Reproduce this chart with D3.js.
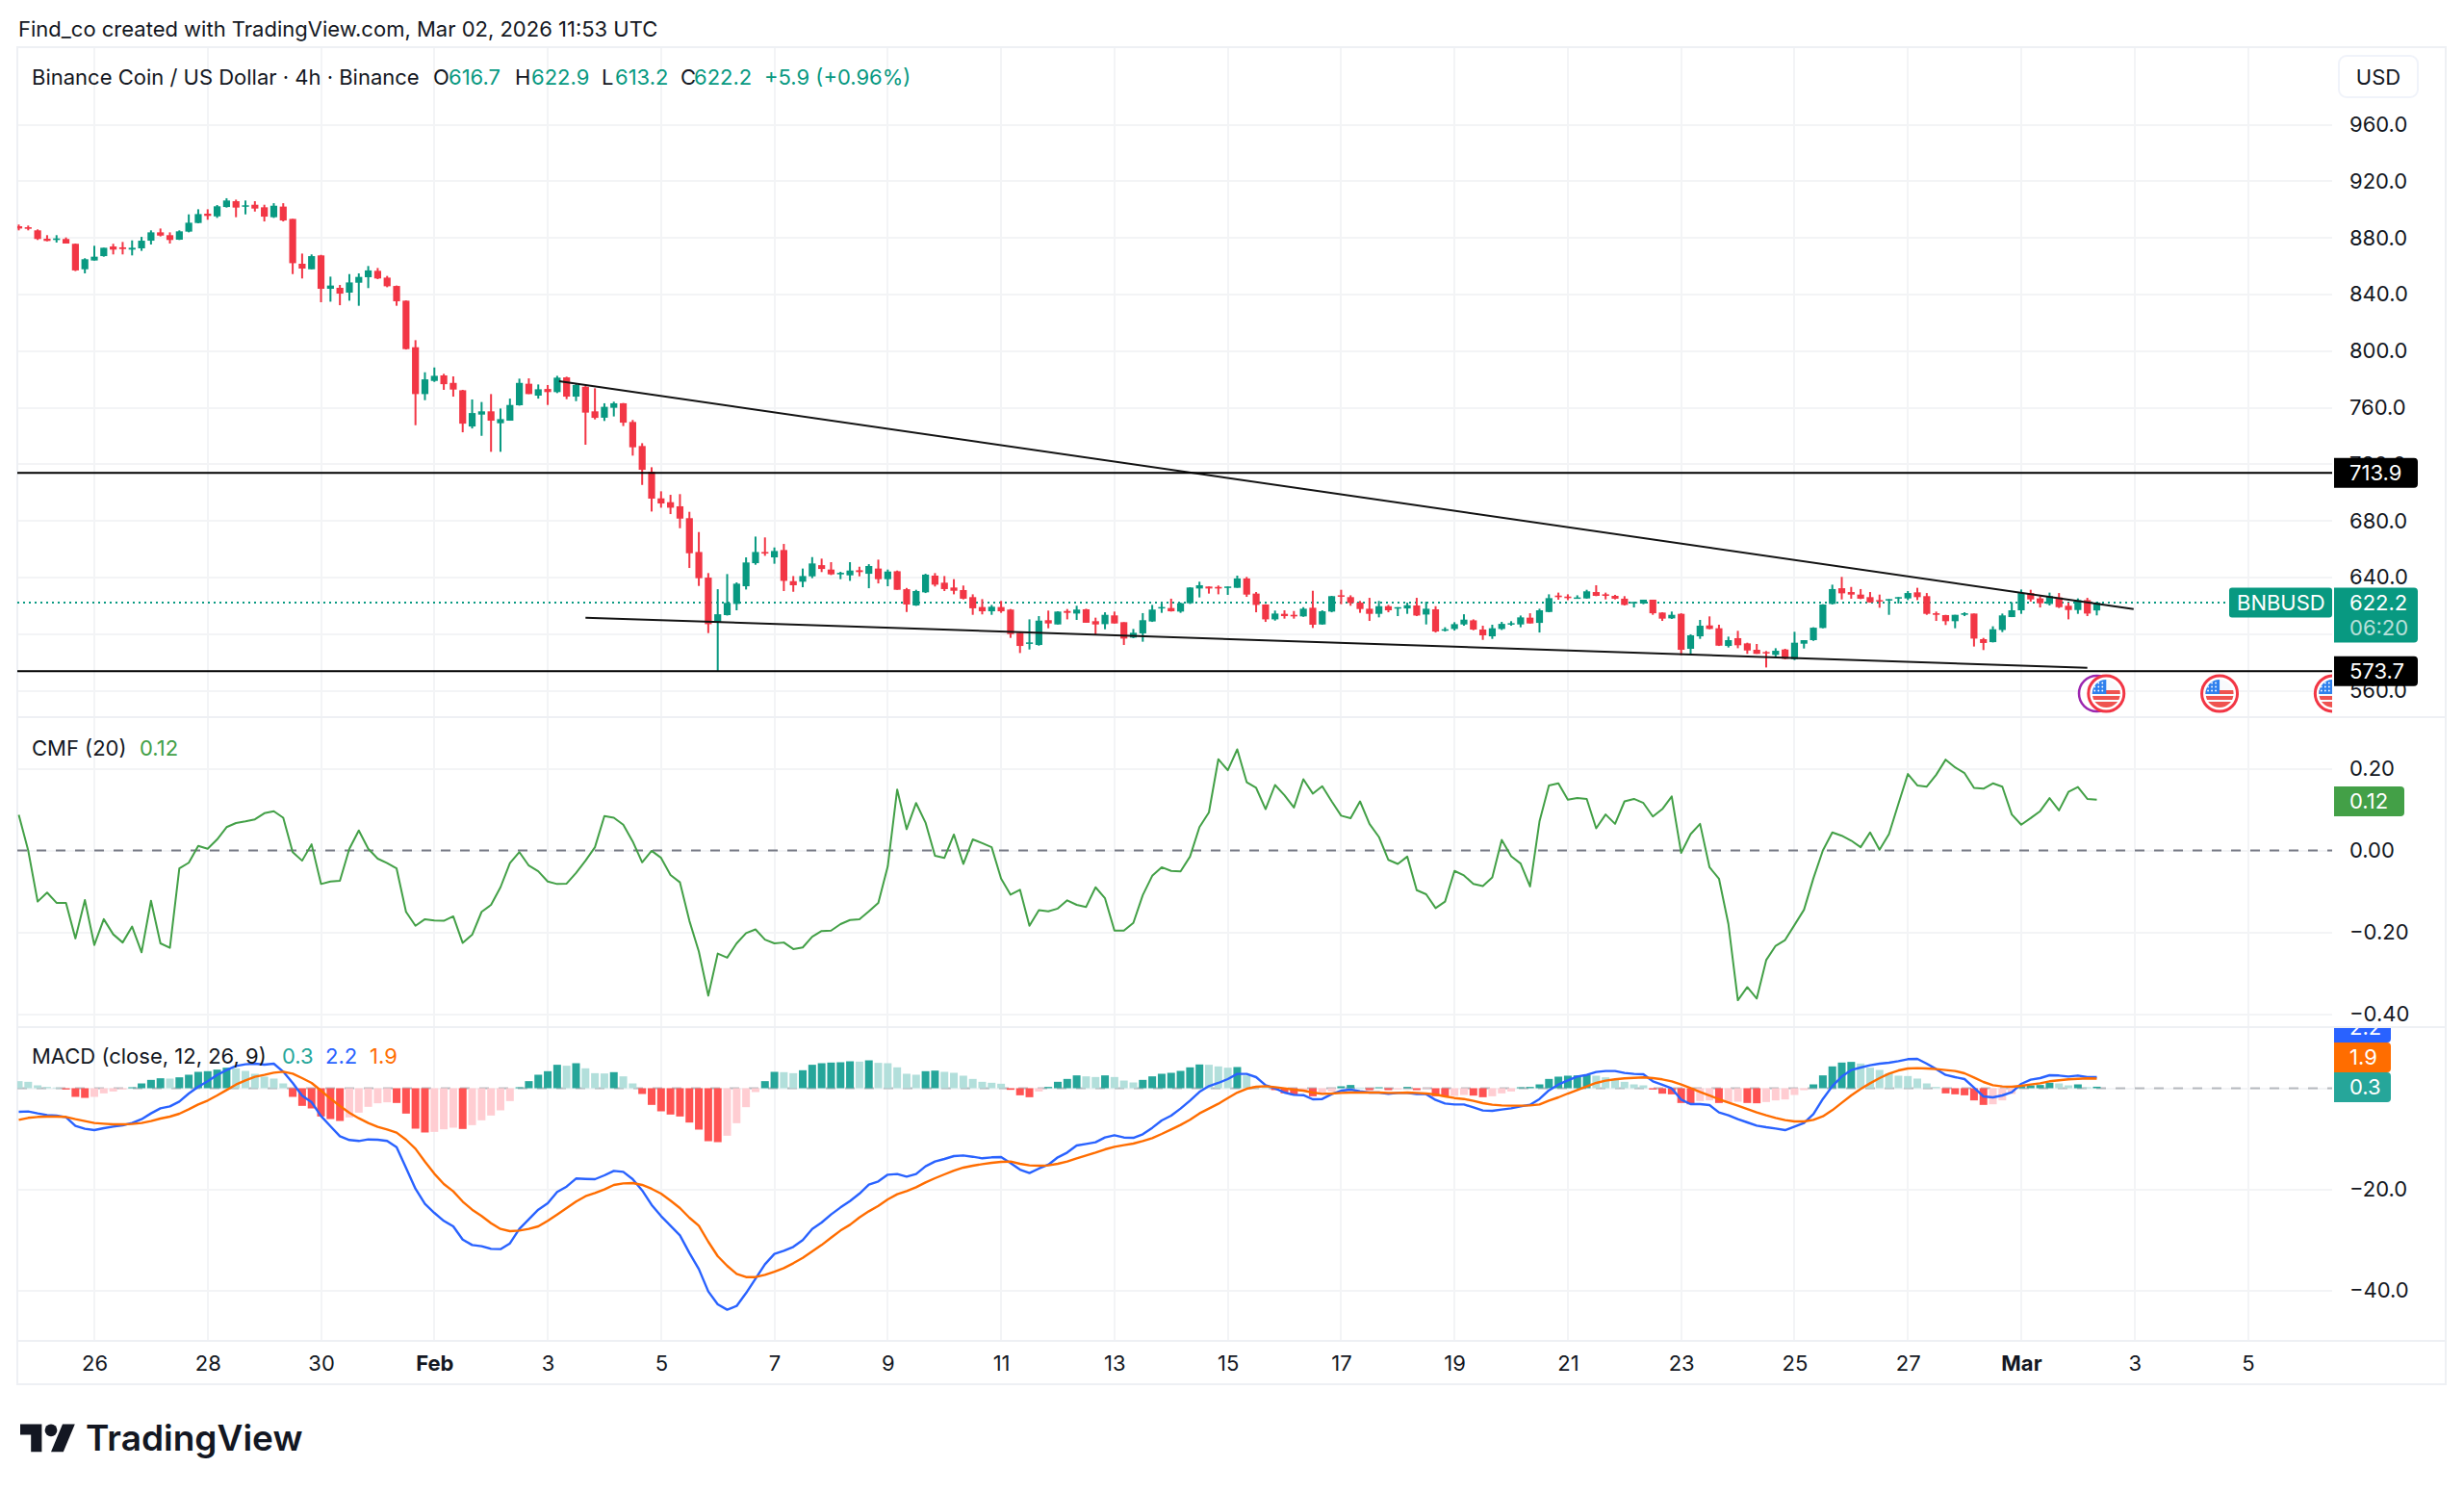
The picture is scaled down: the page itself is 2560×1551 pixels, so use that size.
<!DOCTYPE html>
<html>
<head>
<meta charset="utf-8">
<title>BNBUSD 4h</title>
<script src="https://cdn.jsdelivr.net/npm/d3@7"></script>
<style>
  html, body { margin: 0; padding: 0; background: #fff; }
  text { font-family: Inter, "Liberation Sans", sans-serif; fill: #131722; font-size: 22px; }
</style>
</head>
<body>
<svg id="chart" width="2560" height="1551" viewBox="0 0 2560 1551"></svg>
<script>
// 4h candles, oldest first.
const opens = [
  888.2,887.5,885.3,879.4,878.5,879.2,875.8,857.8,864.0,867.1,
  873.9,873.3,871.7,872.6,878.0,883.9,881.9,878.7,884.4,890.5,
  897.1,895.2,901.8,905.9,902.1,903.4,901.6,894.6,902.1,893.4,
  861.7,857.8,867.6,844.0,844.7,841.3,848.3,852.2,856.7,851.9,
  846.0,835.6,802.7,769.6,778.9,782.8,777.5,772.3,746.7,755.1,
  757.4,749.0,750.8,761.7,776.9,768.5,773.2,771.0,781.4,767.8,
  774.8,757.4,752.9,759.9,763.1,749.9,732.9,714.7,695.9,693.2,
  690.3,681.9,658.0,639.9,608.2,613.4,621.3,633.8,650.1,658.0,
  654.2,659.4,637.4,637.0,640.8,648.7,645.6,642.2,641.5,645.1,
  642.6,646.3,638.8,644.4,631.7,620.2,629.5,641.3,636.3,632.9,
  631.1,626.1,619.1,616.1,619.1,617.3,600.9,593.2,592.3,609.8,
  606.8,616.3,614.5,617.5,609.1,607.0,613.2,608.4,597.5,600.5,
  608.9,618.2,618.4,615.9,621.8,632.2,633.6,633.3,632.7,632.7,
  639.3,628.6,620.9,610.4,614.3,613.6,612.5,618.6,606.8,615.9,
  627.4,626.1,622.2,617.9,614.3,619.7,618.4,618.1,620.2,613.8,
  617.5,602.5,603.6,606.8,609.7,603.2,598.4,603.6,606.8,606.8,
  611.6,607.9,615.6,627.2,626.5,625.2,625.2,629.7,628.1,627.0,
  625.0,621.8,621.6,624.3,615.2,611.1,614.3,589.6,598.4,606.1,
  604.1,591.6,597.1,593.4,588.9,587.3,585.3,589.1,582.3,593.2,
  595.7,604.3,621.3,632.4,629.7,627.9,626.1,624.0,624.0,625.2,
  625.2,629.5,626.8,614.7,613.4,609.1,613.6,614.5,596.4,594.3,
  602.9,612.0,616.8,629.0,625.2,621.3,625.9,620.0,617.0,624.0,
  616.7];
const highs = [
  889.4,888.7,886.0,881.9,881.9,880.3,876.0,865.6,874.4,873.0,
  875.8,877.1,878.2,880.7,885.3,886.6,883.9,885.3,896.6,900.2,
  900.2,903.2,908.0,907.0,906.4,905.9,903.4,904.5,904.5,893.4,
  868.9,868.3,868.0,852.6,846.7,854.4,854.9,860.1,858.7,853.1,
  846.3,835.8,807.7,785.0,788.4,783.9,782.1,772.6,765.8,764.0,
  769.6,759.4,766.4,780.5,780.7,776.4,776.0,782.5,781.9,777.1,
  775.3,773.7,763.1,764.2,763.3,751.3,734.9,717.9,700.9,698.4,
  698.9,686.4,672.1,643.1,631.7,642.4,636.5,654.2,668.9,668.3,
  661.2,663.7,641.0,646.3,654.4,653.3,650.8,644.0,650.8,647.6,
  649.4,652.6,645.6,644.9,632.6,631.3,642.6,643.1,641.0,638.8,
  634.3,628.1,624.7,620.6,623.4,617.7,601.4,610.4,612.7,616.6,
  616.1,617.7,620.0,617.9,611.6,615.4,615.9,608.4,603.6,614.8,
  620.6,622.5,625.0,622.2,633.1,637.0,633.6,634.3,633.6,641.3,
  640.4,629.7,621.1,616.6,616.8,616.3,619.0,630.6,616.8,627.0,
  631.3,627.4,623.4,625.6,623.4,620.6,619.0,622.2,625.6,622.9,
  619.7,604.8,608.4,614.0,610.4,605.9,606.6,608.6,609.1,613.1,
  614.7,617.9,628.1,629.3,628.1,627.4,631.3,634.5,629.3,627.7,
  626.8,622.7,624.3,624.3,615.4,615.9,614.7,599.8,610.0,612.5,
  606.6,598.2,602.3,593.9,593.0,588.0,590.0,589.6,601.6,595.7,
  604.8,621.1,634.9,640.4,633.3,631.8,629.7,627.9,624.7,626.1,
  630.4,632.7,629.0,615.9,613.6,613.6,615.4,614.5,597.3,605.5,
  614.5,622.5,631.5,631.3,626.8,629.3,629.0,622.2,625.2,625.6,
  622.9];
const lows = [
  885.3,885.3,878.5,877.6,876.7,876.0,856.5,854.9,864.0,866.7,
  868.3,868.3,867.6,870.8,875.3,881.0,876.0,878.5,883.9,890.3,
  892.8,894.1,901.4,894.6,896.6,898.6,891.6,894.1,891.6,854.4,
  851.3,857.8,834.5,834.9,832.4,835.6,832.0,844.5,850.8,845.1,
  832.0,801.1,747.6,765.3,778.2,772.6,767.8,742.6,745.3,740.1,
  728.8,728.8,750.8,761.4,769.6,766.4,761.9,770.3,766.0,764.6,
  733.8,751.7,750.6,753.8,747.0,726.1,705.4,686.6,689.3,684.8,
  674.8,646.7,634.0,600.7,574.1,613.1,616.8,631.5,649.0,655.3,
  649.7,630.4,629.9,633.1,639.5,643.8,641.7,638.8,637.6,640.8,
  632.4,635.8,633.8,631.3,615.6,619.9,629.0,633.6,630.4,628.1,
  624.5,613.6,613.9,613.6,615.0,597.3,586.6,589.1,591.8,604.1,
  606.8,610.4,610.0,608.0,599.6,603.4,607.5,592.3,597.1,594.6,
  608.6,615.0,615.9,615.0,621.3,625.9,628.6,628.1,627.7,632.7,
  626.3,615.4,608.6,609.5,610.9,610.9,612.2,604.3,606.6,615.4,
  621.1,620.0,615.0,609.3,611.8,615.4,612.7,614.3,612.7,606.8,
  601.1,601.8,602.5,605.9,602.7,595.9,596.6,602.9,605.9,604.8,
  607.5,601.1,615.4,624.3,624.0,625.0,625.0,626.8,624.5,624.5,
  620.2,618.8,621.1,613.6,609.3,610.7,585.0,586.0,596.6,603.4,
  591.6,590.5,590.0,586.0,586.0,576.4,583.9,582.1,581.6,589.8,
  595.2,604.1,620.9,624.5,625.0,624.7,622.2,618.6,613.6,621.6,
  624.0,624.0,613.6,609.3,606.4,604.1,612.7,591.2,588.7,594.1,
  601.4,612.0,614.3,622.9,618.8,620.2,618.4,610.4,614.3,612.7,
  613.2];
const closes = [
  886.6,886.4,879.2,877.8,879.6,876.0,857.0,864.9,866.7,873.0,
  871.7,872.1,873.0,878.0,883.9,881.6,878.5,884.6,890.7,896.8,
  895.5,902.3,906.4,901.4,903.0,900.7,895.0,902.7,892.3,862.1,
  858.3,867.1,844.0,846.3,840.6,848.5,852.4,857.0,851.3,845.8,
  835.2,801.4,769.6,780.0,782.5,776.6,772.8,748.7,756.2,757.4,
  750.8,751.9,761.9,777.5,769.6,773.0,771.0,781.2,767.8,776.0,
  756.5,752.8,760.6,763.1,749.4,732.0,716.1,695.7,692.3,689.3,
  681.6,657.1,639.5,607.0,614.0,622.0,635.6,650.6,658.0,656.9,
  658.7,637.6,634.5,641.0,649.9,646.0,642.2,643.3,644.9,643.8,
  648.1,638.8,644.2,631.3,620.9,630.4,642.0,634.9,631.8,630.6,
  625.0,618.2,616.1,619.3,616.1,600.0,591.6,594.1,609.5,607.5,
  615.9,615.0,617.3,608.0,606.8,613.6,607.5,596.8,600.9,609.8,
  617.3,619.1,616.1,621.8,632.9,634.5,632.2,632.2,633.6,639.3,
  627.9,620.6,610.4,614.5,612.7,612.5,617.9,606.6,616.1,626.8,
  626.5,622.0,617.7,614.3,619.7,616.8,619.0,620.4,613.1,617.9,
  601.8,603.4,607.0,610.2,603.2,599.1,604.1,607.2,607.7,611.8,
  607.5,616.8,625.4,626.1,625.4,625.9,630.2,627.0,627.0,625.0,
  620.6,622.7,624.3,614.7,610.9,613.6,588.9,599.1,605.9,603.6,
  591.8,595.7,592.1,588.4,586.0,586.4,588.2,582.5,593.9,595.7,
  604.5,620.9,631.8,628.8,627.9,625.0,622.4,623.1,624.7,626.1,
  629.0,626.1,614.3,613.6,609.1,613.6,614.7,596.8,593.7,603.4,
  613.2,616.8,629.0,624.5,621.8,626.8,619.0,617.0,624.0,614.5,
  622.2];

// Chaikin Money Flow (20).
const cmf = [
  0.087,0.000,-0.125,-0.103,-0.128,-0.128,-0.215,-0.121,-0.231,-0.168,
  -0.205,-0.225,-0.186,-0.249,-0.123,-0.227,-0.238,-0.044,-0.030,0.011,
  0.004,0.027,0.057,0.067,0.071,0.076,0.091,0.096,0.080,-0.004,
  -0.025,0.015,-0.082,-0.076,-0.074,0.004,0.049,0.004,-0.020,-0.031,
  -0.044,-0.150,-0.184,-0.168,-0.171,-0.172,-0.161,-0.226,-0.206,-0.150,
  -0.133,-0.090,-0.031,-0.004,-0.037,-0.051,-0.076,-0.082,-0.081,-0.055,
  -0.025,0.008,0.084,0.080,0.063,0.022,-0.029,-0.001,-0.018,-0.060,
  -0.078,-0.172,-0.247,-0.355,-0.252,-0.262,-0.227,-0.202,-0.193,-0.218,
  -0.227,-0.225,-0.241,-0.237,-0.211,-0.197,-0.196,-0.180,-0.170,-0.168,
  -0.149,-0.128,-0.039,0.149,0.052,0.116,0.068,-0.013,-0.018,0.039,
  -0.033,0.027,0.018,0.008,-0.069,-0.108,-0.096,-0.184,-0.146,-0.149,
  -0.142,-0.122,-0.133,-0.138,-0.090,-0.117,-0.196,-0.196,-0.177,-0.109,
  -0.062,-0.041,-0.050,-0.051,-0.015,0.057,0.093,0.223,0.196,0.247,
  0.167,0.153,0.101,0.160,0.135,0.105,0.174,0.139,0.157,0.120,
  0.085,0.079,0.120,0.065,0.033,-0.023,-0.033,-0.015,-0.097,-0.107,
  -0.141,-0.125,-0.050,-0.061,-0.082,-0.087,-0.066,0.026,-0.014,-0.032,
  -0.088,0.071,0.159,0.164,0.124,0.128,0.126,0.054,0.088,0.065,
  0.120,0.126,0.116,0.083,0.101,0.132,-0.006,0.040,0.065,-0.041,
  -0.069,-0.180,-0.366,-0.334,-0.362,-0.268,-0.233,-0.219,-0.182,-0.145,
  -0.068,0.000,0.044,0.036,0.024,0.008,0.044,0.002,0.040,0.114,
  0.187,0.159,0.156,0.185,0.222,0.203,0.189,0.153,0.151,0.164,
  0.156,0.088,0.063,0.079,0.096,0.128,0.098,0.143,0.155,0.126,
  0.124];

// MACD (close, 12, 26, 9): histogram, MACD line, signal line.
const macdHist = [
  1.40,1.27,0.57,0.25,0.13,-0.25,-1.71,-1.91,-1.71,-1.02,
  -0.64,-0.25,0.19,0.95,1.65,1.97,1.91,2.16,2.67,3.24,
  3.37,3.68,4.06,3.94,3.43,2.86,2.29,1.91,0.95,-1.71,
  -3.49,-4.00,-5.59,-6.10,-6.48,-5.78,-4.83,-3.68,-2.98,-2.79,
  -2.92,-5.02,-8.00,-8.76,-8.64,-8.13,-7.81,-8.06,-7.30,-6.35,
  -5.40,-4.38,-2.54,0.19,1.40,2.67,3.37,4.64,4.45,4.95,
  3.94,2.98,2.92,3.18,2.35,0.95,-1.14,-3.30,-4.57,-5.21,
  -5.59,-6.79,-8.19,-10.48,-10.67,-9.40,-6.92,-3.75,-0.76,1.40,
  3.24,3.18,2.98,3.56,4.64,4.95,5.08,5.14,5.33,5.27,
  5.52,5.02,4.95,4.13,2.86,2.67,3.37,3.49,3.24,3.05,
  2.48,1.84,1.27,1.08,0.89,-0.32,-1.40,-1.78,-0.64,0.25,
  1.27,1.84,2.54,2.35,2.22,2.54,2.22,1.52,1.14,1.65,
  2.35,2.86,3.05,3.43,4.13,4.70,4.64,4.32,4.06,4.19,
  2.54,0.44,0.25,-0.38,-1.02,-1.33,-0.64,-1.59,-1.02,-0.64,
  0.38,0.64,0.13,-0.38,0.19,-0.38,-0.25,0.25,-0.38,-0.13,
  -1.59,-1.65,-1.52,-1.33,-1.46,-1.78,-1.59,-1.02,-0.64,0.19,
  0.25,0.76,1.84,2.29,2.48,2.54,2.67,2.48,2.16,1.65,
  1.27,0.76,0.57,-0.25,-1.08,-1.21,-2.92,-3.18,-2.54,-2.41,
  -2.92,-2.79,-2.67,-2.92,-2.98,-2.73,-2.41,-2.22,-1.33,-0.38,
  0.76,2.54,4.32,5.08,5.21,4.89,4.06,3.62,2.98,2.48,
  2.41,1.91,0.95,0.25,-1.02,-1.21,-1.40,-2.41,-3.30,-3.18,
  -2.41,-1.14,0.44,0.57,0.64,1.08,0.95,0.57,0.76,0.19,
  0.3];
const macdLine = [
  -4.67,-4.60,-4.98,-5.30,-5.43,-5.75,-7.46,-8.03,-8.29,-7.90,
  -7.59,-7.33,-6.89,-6.13,-4.98,-3.97,-3.59,-2.63,-1.05,0.29,
  1.37,2.63,3.59,4.41,4.73,4.86,4.67,4.86,3.27,1.05,
  -1.49,-2.76,-5.49,-7.52,-9.49,-10.25,-10.44,-10.13,-10.19,-10.44,
  -11.65,-15.78,-19.90,-22.89,-24.67,-26.25,-27.33,-29.94,-31.02,-31.27,
  -31.78,-31.84,-30.70,-27.84,-25.94,-24.03,-22.76,-20.54,-19.46,-17.87,
  -17.94,-18.00,-17.24,-16.35,-16.54,-18.00,-20.22,-23.08,-25.30,-27.21,
  -29.11,-32.60,-35.78,-40.22,-42.76,-43.84,-43.08,-40.54,-37.68,-34.83,
  -32.79,-32.16,-31.40,-30.06,-27.84,-26.57,-24.98,-23.59,-22.32,-20.86,
  -19.08,-18.44,-17.11,-16.98,-17.49,-16.98,-15.46,-14.51,-14.00,-13.43,
  -13.30,-13.56,-13.87,-13.68,-13.62,-14.83,-16.10,-16.79,-15.90,-15.14,
  -13.68,-12.73,-11.33,-11.02,-10.70,-9.75,-9.30,-9.75,-9.81,-9.11,
  -7.84,-6.38,-5.43,-4.03,-2.44,-0.73,0.41,1.05,1.81,2.83,
  2.83,2.19,0.60,-0.03,-0.86,-1.30,-1.37,-2.19,-2.13,-1.17,
  -0.48,-0.29,-0.60,-0.86,-0.86,-1.11,-0.92,-0.92,-1.17,-1.17,
  -2.32,-3.02,-3.21,-3.21,-3.78,-4.41,-4.48,-4.22,-3.97,-3.59,
  -3.27,-2.13,-0.41,0.73,1.56,2.32,2.63,3.21,3.40,3.40,
  3.02,2.83,2.76,1.37,0.67,-0.03,-2.25,-3.14,-3.14,-3.33,
  -4.79,-5.37,-6.13,-6.76,-7.40,-7.71,-7.97,-8.29,-7.59,-6.89,
  -5.11,-2.13,0.41,2.32,3.59,4.10,4.54,4.86,5.05,5.37,
  5.75,5.81,4.86,3.78,2.63,2.19,1.81,0.10,-1.62,-1.81,
  -1.43,-0.79,0.86,1.68,2.00,2.57,2.51,2.32,2.51,2.19,
  2.2];
const signalLine = [
  -6.25,-5.87,-5.68,-5.62,-5.62,-5.68,-6.13,-6.51,-6.89,-7.02,
  -7.14,-7.14,-7.08,-6.89,-6.51,-6.00,-5.62,-5.05,-4.16,-3.21,
  -2.44,-1.43,-0.35,0.73,1.56,2.25,2.63,3.08,3.27,2.89,
  2.00,1.05,-0.48,-2.06,-3.52,-4.86,-5.94,-6.89,-7.65,-8.16,
  -8.79,-10.19,-11.97,-14.51,-16.92,-18.95,-20.41,-22.44,-24.03,-25.30,
  -26.70,-27.84,-28.29,-28.16,-27.84,-27.33,-26.25,-24.98,-23.71,-22.44,
  -21.37,-20.73,-20.03,-19.14,-18.83,-18.76,-19.14,-19.90,-20.86,-22.25,
  -23.71,-25.62,-27.21,-30.38,-33.24,-35.14,-36.73,-37.37,-37.37,-36.92,
  -36.29,-35.59,-34.63,-33.56,-32.29,-31.02,-29.56,-28.16,-27.02,-25.56,
  -24.35,-23.27,-22.00,-20.98,-20.35,-19.59,-18.63,-17.81,-17.05,-16.29,
  -15.71,-15.33,-15.02,-14.76,-14.57,-14.51,-14.95,-15.27,-15.33,-15.27,
  -14.95,-14.51,-13.87,-13.30,-12.73,-12.10,-11.59,-11.27,-10.95,-10.44,
  -9.87,-9.05,-8.16,-7.27,-6.25,-4.98,-4.03,-3.08,-1.94,-0.86,
  -0.10,0.29,0.41,0.22,-0.03,-0.29,-0.48,-0.86,-1.11,-1.05,
  -0.92,-0.86,-0.86,-0.86,-0.86,-0.92,-0.92,-0.86,-0.92,-1.05,
  -1.24,-1.62,-1.94,-2.13,-2.51,-2.95,-3.27,-3.40,-3.46,-3.46,
  -3.40,-3.21,-2.44,-1.81,-1.05,-0.35,0.35,1.05,1.49,1.75,
  1.94,2.06,2.13,2.00,1.75,1.37,0.73,0.03,-0.73,-1.43,
  -2.19,-2.83,-3.46,-4.10,-4.79,-5.37,-5.87,-6.32,-6.57,-6.57,
  -6.25,-5.56,-4.35,-2.89,-1.43,-0.16,0.98,2.00,2.89,3.52,
  3.90,3.97,3.90,3.78,3.59,3.40,2.95,2.13,1.24,0.60,
  0.35,0.29,0.48,0.73,0.98,1.37,1.56,1.75,1.87,1.94,
  1.9];

// Gridline levels, axis labels and horizontal drawn levels.
const priceGrid = [960, 920, 880, 840, 800, 760, 720, 680, 640, 600, 560];
const priceLabels = [960, 920, 880, 840, 800, 760, 720, 680, 640, 560];
const cmfTicks = [0.2, 0, -0.2, -0.4];
const macdGrid = [0, -20, -40];
const macdLabels = [-20, -40];
const levels = [713.9, 573.7];
const lastPrice = 622.2;
const lastCmf = 0.12;
const lastHist = 0.3;
const lastMacd = 2.2;
const lastSignal = 1.9;

// Date ticks on the time axis.
const dateTicks = [
  ["2026-01-26", "26"], ["2026-01-28", "28"], ["2026-01-30", "30"], ["2026-02-01", "Feb"],
  ["2026-02-03", "3"], ["2026-02-05", "5"], ["2026-02-07", "7"], ["2026-02-09", "9"],
  ["2026-02-11", "11"], ["2026-02-13", "13"], ["2026-02-15", "15"], ["2026-02-17", "17"],
  ["2026-02-19", "19"], ["2026-02-21", "21"], ["2026-02-23", "23"], ["2026-02-25", "25"],
  ["2026-02-27", "27"], ["2026-03-01", "Mar"], ["2026-03-03", "3"], ["2026-03-05", "5"]
];

// Trend lines as [bar index, price] pairs.
const upperTrend = [[57.2, 778.7], [223.9, 617.7]];
const lowerTrend = [[60, 611.6], [219, 576.2]];

// Upcoming calendar events.
const usEvents = ["2026-03-02T12:00Z", "2026-03-04T12:00Z", "2026-03-06T12:00Z"];
const earningsEvent = "2026-03-02T08:00Z";

const C = {
  up: "#089981", down: "#f23645", grid: "#f3f4f6", border: "#eef0f4", text: "#131722",
  cmf: "#43a047", macd: "#2962ff", signal: "#ff6d00",
  histUp: "#26a69a", histUpFade: "#b2dfdb", histDown: "#ff5252", histDownFade: "#ffcdd2"
};

// Frame geometry.
const frame = { left: 18, right: 2541, top: 49, bottom: 1438 };
const axisX = 2423;
const timeBottom = 1393;
const panes = {
  main: { top: 49, bottom: 745 },
  cmf: { top: 746, bottom: 1067 },
  macd: { top: 1068, bottom: timeBottom }
};

const firstBar = new Date("2026-01-24T16:00:00Z");
const barIndex = d3.range(opens.length);

const x = d3.scaleUtc()
  .domain([new Date("2026-01-26T00:00:00Z"), new Date("2026-03-05T00:00:00Z")])
  .range([98, 2335.5]);
const xBar = i => x(new Date(+firstBar + i * 4 * 3600e3));

const yPrice = d3.scaleLinear().domain([960, 560]).range([129.5, 717.5]);
const yCmf = d3.scaleLinear().domain([0.2, -0.4]).range([798.5, 1053.5]);
const yMacd = d3.scaleLinear().domain([0, -40]).range([1130.5, 1340.5]);

const svg = d3.select("#chart");
const defs = svg.append("defs");

function clipFor(id, l, t, r, b) {
  defs.append("clipPath").attr("id", id).append("rect")
    .attr("x", l).attr("y", t).attr("width", r - l).attr("height", b - t);
  return `url(#${id})`;
}
const clipMain = clipFor("clip-main", frame.left, panes.main.top, axisX, panes.main.bottom);
const clipCmf = clipFor("clip-cmf", frame.left, panes.cmf.top, axisX, panes.cmf.bottom);
const clipMacd = clipFor("clip-macd", frame.left, panes.macd.top, axisX, panes.macd.bottom);
const clipMacdAxis = clipFor("clip-macd-axis", axisX, panes.macd.top, frame.right, panes.macd.bottom);

// Creator line above the chart.
svg.append("text").attr("x", 19).attr("y", 30).attr("dy", "0.35em")
  .text("Find_co created with TradingView.com, Mar 02, 2026 11:53 UTC");

// Grid.
const grid = svg.append("g").attr("shape-rendering", "crispEdges");
const hGrid = (scale, ticks) => grid.append("g").selectAll("line").data(ticks).join("line")
  .attr("x1", frame.left).attr("x2", axisX)
  .attr("y1", d => Math.round(scale(d))).attr("y2", d => Math.round(scale(d)))
  .attr("stroke", C.grid).attr("stroke-width", 2);
hGrid(yPrice, priceGrid);
hGrid(yCmf, cmfTicks);
hGrid(yMacd, macdGrid);
grid.append("g").selectAll("line").data(dateTicks).join("line")
  .attr("x1", d => Math.round(x(new Date(d[0] + "T00:00:00Z"))))
  .attr("x2", d => Math.round(x(new Date(d[0] + "T00:00:00Z"))))
  .attr("y1", frame.top).attr("y2", timeBottom)
  .attr("stroke", C.grid).attr("stroke-width", 2);

// Frame and pane separators.
const rules = svg.append("g").attr("shape-rendering", "crispEdges")
  .attr("stroke", C.border).attr("stroke-width", 2).attr("fill", "none");
rules.append("rect").attr("x", frame.left).attr("y", frame.top)
  .attr("width", frame.right - frame.left).attr("height", frame.bottom - frame.top);
[panes.main.bottom, panes.cmf.bottom, timeBottom].forEach(y => {
  rules.append("line").attr("x1", frame.left).attr("x2", frame.right).attr("y1", y).attr("y2", y);
});

// Main pane: last-price guide, candles, drawings.
const main = svg.append("g").attr("clip-path", clipMain);
main.append("line")
  .attr("x1", frame.left).attr("x2", 2316)
  .attr("y1", yPrice(lastPrice)).attr("y2", yPrice(lastPrice))
  .attr("stroke", C.up).attr("stroke-width", 2).attr("stroke-dasharray", "2 4");

const candles = main.append("g").selectAll("g").data(barIndex).join("g")
  .attr("fill", i => closes[i] >= opens[i] ? C.up : C.down);
candles.append("rect")
  .attr("x", i => xBar(i) - 1).attr("width", 2)
  .attr("y", i => yPrice(highs[i]))
  .attr("height", i => yPrice(lows[i]) - yPrice(highs[i]));
candles.append("rect")
  .attr("x", i => xBar(i) - 3.6).attr("width", 7.2)
  .attr("y", i => yPrice(Math.max(opens[i], closes[i])))
  .attr("height", i => Math.max(1.5, Math.abs(yPrice(opens[i]) - yPrice(closes[i]))));

const trendPath = d3.line().x(d => xBar(d[0])).y(d => yPrice(d[1]));
main.append("g").selectAll("path").data([upperTrend, lowerTrend]).join("path")
  .attr("d", trendPath).attr("fill", "none").attr("stroke", "#131313").attr("stroke-width", 2);
main.append("g").selectAll("line").data(levels).join("line")
  .attr("x1", frame.left).attr("x2", axisX)
  .attr("y1", d => yPrice(d)).attr("y2", d => yPrice(d))
  .attr("stroke", "#000").attr("stroke-width", 2);

// Event markers along the bottom of the main pane.
const eventY = 720.5;
defs.append("clipPath").attr("id", "flag-disc").append("circle").attr("r", 14.5);
function usFlag(sel) {
  const g = sel.append("g").attr("clip-path", "url(#flag-disc)");
  g.append("rect").attr("x", -15).attr("y", -15).attr("width", 30).attr("height", 30).attr("fill", "#f8fafc");
  [[-3.5, 4], [2.5, 4], [8.5, 6.5]].forEach(([y, h]) =>
    g.append("rect").attr("x", -15).attr("y", y).attr("width", 30).attr("height", h).attr("fill", "#ef5350"));
  g.append("rect").attr("x", -15).attr("y", -15).attr("width", 15).attr("height", 15.5).attr("fill", "#2f80ed");
  [-12, -8, -4].forEach(sx => [-11, -7, -3].forEach(sy =>
    g.append("circle").attr("cx", sx).attr("cy", sy).attr("r", 0.9).attr("fill", "#fff")));
}
const events = main.append("g");
events.append("circle")
  .attr("cx", x(new Date(earningsEvent))).attr("cy", eventY).attr("r", 18.5)
  .attr("fill", "#fff").attr("stroke", "#9c27b0").attr("stroke-width", 2.5);
usEvents.forEach(d => {
  const g = events.append("g").attr("transform", `translate(${x(new Date(d))},${eventY})`);
  g.append("circle").attr("r", 18.5).attr("fill", "#fff").attr("stroke", C.down).attr("stroke-width", 3);
  usFlag(g);
});

// CMF pane.
const cmfPane = svg.append("g").attr("clip-path", clipCmf);
cmfPane.append("line")
  .attr("x1", frame.left).attr("x2", axisX).attr("y1", yCmf(0)).attr("y2", yCmf(0))
  .attr("stroke", "#787b86").attr("stroke-width", 2).attr("stroke-dasharray", "10 10");
cmfPane.append("path").datum(cmf)
  .attr("d", d3.line().x((d, i) => xBar(i)).y(d => yCmf(d)))
  .attr("fill", "none").attr("stroke", C.cmf).attr("stroke-width", 2).attr("stroke-linejoin", "round");

// MACD pane.
const macdPane = svg.append("g").attr("clip-path", clipMacd);
macdPane.append("line")
  .attr("x1", frame.left).attr("x2", axisX).attr("y1", yMacd(0)).attr("y2", yMacd(0))
  .attr("stroke", "#787b86").attr("stroke-opacity", 0.5).attr("stroke-width", 2).attr("stroke-dasharray", "10 10");
const histColor = i => {
  const h = macdHist[i], prev = i ? macdHist[i - 1] : h;
  if (h >= 0) return h > prev ? C.histUp : C.histUpFade;
  return h < prev ? C.histDown : C.histDownFade;
};
macdPane.append("g").selectAll("rect").data(barIndex).join("rect")
  .attr("x", i => xBar(i) - 4).attr("width", 8)
  .attr("y", i => Math.min(yMacd(0), yMacd(macdHist[i])))
  .attr("height", i => Math.abs(yMacd(macdHist[i]) - yMacd(0)))
  .attr("fill", histColor);
const macdPath = d3.line().x((d, i) => xBar(i)).y(d => yMacd(d));
macdPane.append("path").datum(macdLine).attr("d", macdPath)
  .attr("fill", "none").attr("stroke", C.macd).attr("stroke-width", 2.4).attr("stroke-linejoin", "round");
macdPane.append("path").datum(signalLine).attr("d", macdPath)
  .attr("fill", "none").attr("stroke", C.signal).attr("stroke-width", 2.4).attr("stroke-linejoin", "round");

// Value axes.
const valueAxis = (scale, ticks, fmt) => g => {
  g.call(d3.axisRight(scale).tickValues(ticks).tickFormat(fmt).tickSize(0).tickPadding(18));
  g.select(".domain").remove();
  g.attr("font-size", null).attr("font-family", null);
};
svg.append("g").attr("transform", `translate(${axisX},0)`).call(valueAxis(yPrice, priceLabels, d3.format(".1f")));
svg.append("g").attr("transform", `translate(${axisX},0)`).call(valueAxis(yCmf, cmfTicks, d3.format(".2f")));
svg.append("g").attr("transform", `translate(${axisX},0)`).call(valueAxis(yMacd, macdLabels, d3.format(".1f")));

// Time axis.
const timeAxis = svg.append("g").attr("transform", "translate(0,1416)")
  .call(d3.axisBottom(x)
    .tickValues(dateTicks.map(d => new Date(d[0] + "T00:00:00Z")))
    .tickFormat((d, i) => dateTicks[i][1])
    .tickSize(0).tickPadding(0));
timeAxis.select(".domain").remove();
timeAxis.selectAll("text")
  .attr("y", 0).attr("dy", "0.35em")
  .attr("font-weight", (d, i) => isNaN(+dateTicks[i][1]) ? 700 : 400);
timeAxis.attr("font-size", null).attr("font-family", null);

// Axis value tags.
function axisTag(parent, y, w, fill, label, opts = {}) {
  const h = opts.h || 31;
  const r = 4;
  const x0 = axisX + 2, x1 = x0 + w;
  const top = y - h / 2;
  parent.append("path")
    .attr("d", `M${x0},${top}H${x1 - r}Q${x1},${top} ${x1},${top + r}V${top + h - r}Q${x1},${top + h} ${x1 - r},${top + h}H${x0}Z`)
    .attr("fill", fill);
  if (label) parent.append("text").attr("x", axisX + 18).attr("y", y).attr("dy", "0.35em")
    .style("fill", "#fff").text(label);
}
const tags = svg.append("g");
levels.forEach(l => axisTag(tags, yPrice(l), 87, "#000", d3.format(".1f")(l)));

// Last-price block with symbol name and countdown.
const tagTop = yPrice(lastPrice) - 15.5;
tags.append("rect").attr("x", 2316).attr("y", tagTop).attr("width", 107).attr("height", 31).attr("rx", 3).attr("fill", C.up);
tags.append("text").attr("x", 2324).attr("y", yPrice(lastPrice)).attr("dy", "0.35em").style("fill", "#fff").text("BNBUSD");
axisTag(tags, tagTop + 28.5, 87, C.up, "", { h: 57 });
tags.append("text").attr("x", axisX + 18).attr("y", yPrice(lastPrice)).attr("dy", "0.35em")
  .style("fill", "#fff").text(d3.format(".1f")(lastPrice));
tags.append("text").attr("x", axisX + 18).attr("y", yPrice(lastPrice) + 26.5).attr("dy", "0.35em")
  .style("fill", "#fff").style("opacity", 0.7).text("06:20");

axisTag(tags, yCmf(lastCmf), 73, C.cmf, d3.format(".2f")(lastCmf));

// MACD tags stack upward from the histogram value, clipped by the pane top.
const macdTags = svg.append("g").attr("clip-path", clipMacdAxis);
const tagBase = yMacd(lastHist) + 0.5;
axisTag(macdTags, tagBase - 62, 59, C.macd, d3.format(".1f")(lastMacd));
axisTag(macdTags, tagBase - 31, 59, C.signal, d3.format(".1f")(lastSignal));
axisTag(macdTags, tagBase, 59, C.histUp, d3.format(".1f")(lastHist));

// Currency button.
svg.append("rect").attr("x", 2430).attr("y", 58).attr("width", 82).attr("height", 43).attr("rx", 8)
  .attr("fill", "#fff").attr("stroke", "#f0f3fa").attr("stroke-width", 2);
svg.append("text").attr("x", 2471).attr("y", 80).attr("dy", "0.35em").attr("text-anchor", "middle").text("USD");

// Legends.
function legend(y, parts) {
  const g = svg.append("g");
  parts.forEach(([px, str, color]) => {
    g.append("text").attr("x", px).attr("y", y).attr("dy", "0.35em").style("fill", color || C.text).text(str);
  });
}
legend(80, [
  [33, "Binance Coin / US Dollar · 4h · Binance"],
  [450, "O"], [466, "616.7", C.up],
  [535, "H"], [552, "622.9", C.up],
  [625, "L"], [639, "613.2", C.up],
  [707, "C"], [721, "622.2", C.up],
  [794, "+5.9 (+0.96%)", C.up]
]);
legend(777, [[33, "CMF (20)"], [145, "0.12", C.cmf]]);
legend(1097, [
  [33, "MACD (close, 12, 26, 9)"],
  [293, "0.3", C.histUp], [338, "2.2", C.macd], [384, "1.9", C.signal]
]);

// Wordmark below the frame.
const mark = svg.append("g").attr("transform", "translate(21,1473) scale(1.6)").attr("fill", "#131722");
mark.append("path").attr("d", "M14 22H7V11H0V4h14v18zM28 22h-8l7.5-18h8L28 22z");
mark.append("circle").attr("cx", 20).attr("cy", 8).attr("r", 4);
svg.append("text").attr("x", 89).attr("y", 1494).attr("dy", "0.35em")
  .style("font-size", "37px").style("font-weight", 600).text("TradingView");
</script>
</body>
</html>
